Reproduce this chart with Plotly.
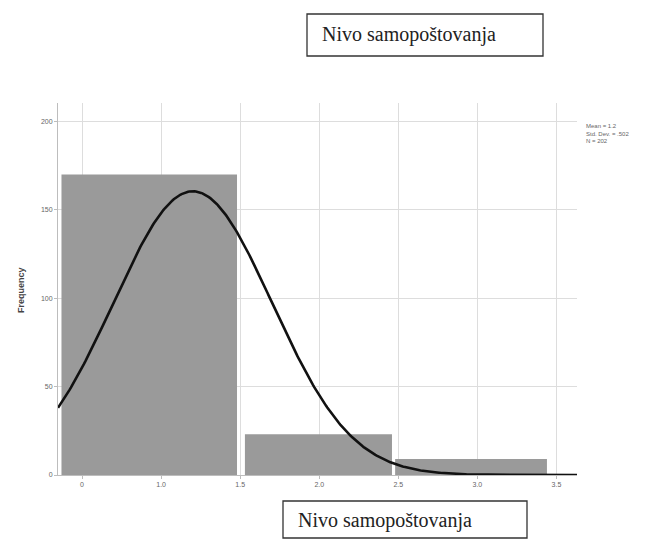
import numpy as np
import plotly.graph_objects as go

# ---- data ----
bin_left = [0.37, 1.53, 2.48]
bin_right = [1.48, 2.46, 3.44]
counts = [170, 23, 9]
stat_mean = 1.2
stat_sd = 0.502
stat_n = 202
x_ticks = [0.5, 1.0, 1.5, 2.0, 2.5, 3.0, 3.5]
x_tick_labels = ["0", "1.0", "1.5", "2.0", "2.5", "3.0", "3.5"]
y_ticks = [0, 50, 100, 150, 200]
y_tick_labels = ["0", "50", "100", "150", "200"]
title_text = "Nivo samopoštovanja"
stats_lines = ["Mean = 1.2", "Std. Dev. = .502", "N = 202"]

x_range = [0.348, 3.63]
y_range = [0, 210.5]

centers = [(a + b) / 2 for a, b in zip(bin_left, bin_right)]
widths = [b - a for a, b in zip(bin_left, bin_right)]

xs = np.linspace(x_range[0], x_range[1], 400)
ys = stat_n * 1.0 / (stat_sd * np.sqrt(2 * np.pi)) * np.exp(-0.5 * ((xs - stat_mean) / stat_sd) ** 2)

fig = go.Figure()
fig.add_trace(go.Bar(x=centers, y=counts, width=widths,
                     marker=dict(color="#9a9a9a", line=dict(width=0)),
                     hoverinfo="skip"))
fig.add_trace(go.Scatter(x=xs, y=ys, mode="lines",
                         line=dict(color="#111111", width=2.6), hoverinfo="skip"))

# page body has an 8px margin; plot area on screen: x 58..577, y 103..475
fig.update_layout(
    width=656, height=539,
    margin=dict(l=50, r=87, t=95, b=72),
    paper_bgcolor="white", plot_bgcolor="white",
    showlegend=False,
    font=dict(family="Arial, Liberation Sans", color="#555555"),
)
fig.update_xaxes(range=x_range, tickvals=x_ticks, ticktext=x_tick_labels,
                 tickfont=dict(size=7, color="#666666"),
                 showgrid=True, gridcolor="#dddddd", gridwidth=1,
                 showline=True, linecolor="#bdbdbd", linewidth=1,
                 ticks="outside", ticklen=3, tickcolor="#bdbdbd", zeroline=False)
fig.update_yaxes(range=y_range, tickvals=y_ticks, ticktext=y_tick_labels,
                 tickfont=dict(size=7, color="#666666"),
                 showgrid=True, gridcolor="#dddddd", gridwidth=1,
                 showline=True, linecolor="#bdbdbd", linewidth=1,
                 ticks="outside", ticklen=3, tickcolor="#bdbdbd", zeroline=False)

PX0, PX1, PY0, PY1 = 58, 577, 103, 475


def px(xpix):
    return (xpix - PX0) / (PX1 - PX0)


def py(ypix):
    return (PY1 - ypix) / (PY1 - PY0)


anns = []
anns.append(dict(xref="paper", yref="paper", x=px(21), y=py(290), text="<b>Frequency</b>",
                 textangle=-90, showarrow=False, xanchor="center", yanchor="middle",
                 font=dict(size=9, color="#444444")))
for i, line in enumerate(stats_lines):
    anns.append(dict(xref="paper", yref="paper", x=px(584), y=py(126 + i * 7.5),
                     xanchor="left", yanchor="middle", text=line, showarrow=False,
                     font=dict(size=6, color="#666666")))
serif = dict(family="Liberation Serif, Times New Roman, serif", size=20, color="#222222")
anns.append(dict(xref="paper", yref="paper", x=px(320), y=py(35), xanchor="left", yanchor="middle",
                 text=title_text, showarrow=False, font=serif))
anns.append(dict(xref="paper", yref="paper", x=px(296), y=py(520), xanchor="left", yanchor="middle",
                 text=title_text, showarrow=False, font=serif))

shapes = [
    dict(type="rect", xref="paper", yref="paper", x0=px(307), x1=px(543), y0=py(56), y1=py(14),
         line=dict(color="#333333", width=1.3), fillcolor="rgba(0,0,0,0)"),
    dict(type="rect", xref="paper", yref="paper", x0=px(283), x1=px(527), y0=py(538), y1=py(501),
         line=dict(color="#333333", width=1.3), fillcolor="rgba(0,0,0,0)"),
]
fig.update_layout(annotations=anns, shapes=shapes)

fig.write_html("out.html")
